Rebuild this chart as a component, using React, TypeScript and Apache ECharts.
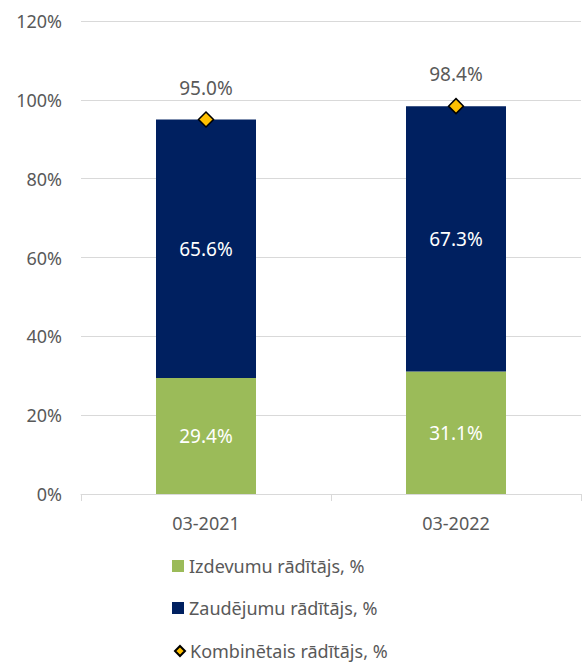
import React, { useEffect, useRef } from "react";
import * as echarts from "echarts";

const categories = ["03-2021", "03-2022"];
const expenseRatio = [29.4, 31.1];
const lossRatio = [65.6, 67.3];
const combinedRatio = [95.0, 98.4];
const seriesNames = ["Izdevumu rādītājs, %", "Zaudējumu rādītājs, %", "Kombinētais rādītājs, %"];

const FONT = "'Noto Sans', sans-serif";
const GREY = "#595959";

export default function App() {
  const ref = useRef<HTMLDivElement>(null);
  useEffect(() => {
    if (!ref.current) return;
    const chart = echarts.init(ref.current, null, { renderer: "svg" });
    const pct = (p: any) => Number(p.value).toFixed(1) + "%";
    const legendText = { fontSize: 18, color: GREY, fontFamily: FONT, lineHeight: 20 };
    chart.setOption({
      animation: false,
      textStyle: { fontFamily: FONT },
      grid: { left: 81, right: 1, top: 21, bottom: 170, containLabel: false },
      legend: [
        {
          data: [{ name: seriesNames[0], icon: "rect" }],
          left: 172, top: 556, padding: 0, itemWidth: 12, itemHeight: 12,
          textStyle: legendText,
        },
        {
          data: [{ name: seriesNames[1], icon: "rect" }],
          left: 172, top: 598, padding: 0, itemWidth: 12, itemHeight: 12,
          textStyle: legendText,
        },
        {
          data: [{ name: seriesNames[2], icon: "diamond" }],
          left: 174, top: 641, padding: 0, itemWidth: 10, itemHeight: 10,
          textStyle: legendText,
        },
      ],
      xAxis: {
        type: "category",
        data: categories,
        axisLine: { lineStyle: { color: "#D9D9D9", width: 1 } },
        axisTick: { show: true, length: 7, lineStyle: { color: "#D9D9D9" } },
        axisLabel: { fontSize: 18, color: GREY, margin: 20, fontFamily: FONT },
      },
      yAxis: {
        type: "value",
        min: 0,
        max: 120,
        interval: 20,
        axisLine: { show: false },
        axisTick: { show: false },
        splitLine: { lineStyle: { color: "#D9D9D9", width: 1 } },
        axisLabel: { fontSize: 18, color: GREY, margin: 19, fontFamily: FONT, formatter: "{value}%" },
      },
      series: [
        {
          name: seriesNames[0],
          type: "bar",
          stack: "total",
          barWidth: 100,
          data: expenseRatio,
          itemStyle: { color: "#9BBB59" },
          label: { show: true, position: "inside", color: "#FFFFFF", fontSize: 19, fontFamily: FONT, formatter: pct },
        },
        {
          name: seriesNames[1],
          type: "bar",
          stack: "total",
          barWidth: 100,
          data: lossRatio,
          itemStyle: { color: "#002060" },
          label: { show: true, position: "inside", color: "#FFFFFF", fontSize: 19, fontFamily: FONT, formatter: pct },
        },
        {
          name: seriesNames[2],
          type: "line",
          data: combinedRatio,
          symbol: "diamond",
          symbolSize: 15,
          lineStyle: { opacity: 0 },
          itemStyle: { color: "#FFC000", borderColor: "#000000", borderWidth: 1.5 },
          label: { show: true, position: "top", distance: 14, color: GREY, fontSize: 19, fontFamily: FONT, formatter: pct },
          z: 5,
        },
      ],
    });
    return () => chart.dispose();
  }, []);
  return <div ref={ref} style={{ width: 582, height: 664, position: "absolute", left: 0, top: 0 }} />;
}
